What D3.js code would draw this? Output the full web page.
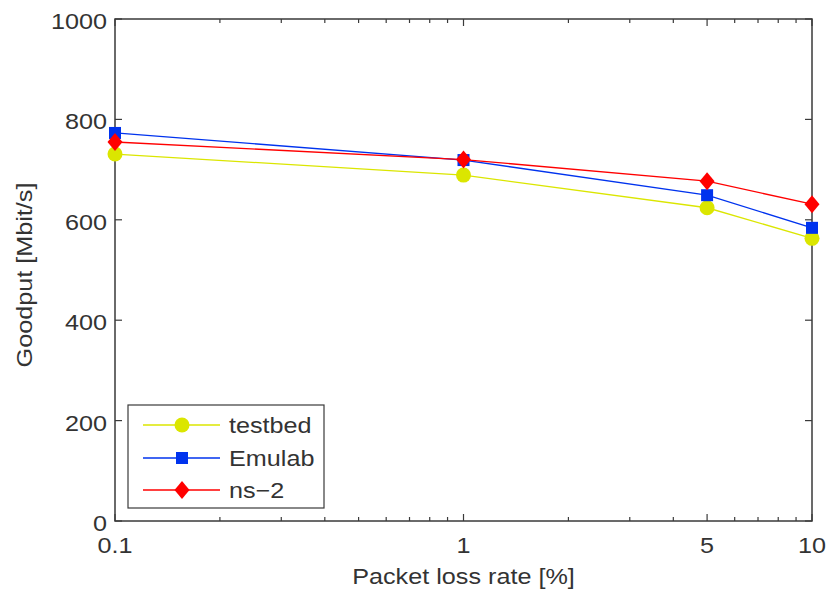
<!DOCTYPE html>
<html><head><meta charset="utf-8">
<script src="https://cdn.jsdelivr.net/npm/d3@7"></script>
<style>body{margin:0;background:#fff}svg{display:block}text{font-family:"Liberation Sans",Arial,sans-serif;fill:#333}</style>
</head><body>
<svg id="chart" width="828" height="590"></svg>
<script>
const lossRates = [0.1, 1, 5, 10];
const testbed = [731, 689, 624, 563];
const emulab = [773, 719, 649, 584];
const ns2 = [755, 720, 677, 631];
const seriesNames = ["testbed", "Emulab", "ns\u22122"];
const xTickValues = [0.1, 1, 5, 10];
const xTickLabels = ["0.1", "1", "5", "10"];
const yTickValues = [0, 200, 400, 600, 800, 1000];

const colors = ["#dbe600", "#0033ee", "#ff0000"];
const markers = ["circle", "square", "diamond"];
const series = [testbed, emulab, ns2];

const svg = d3.select("#chart");
const L = 115, R = 812, T = 19, B = 521;
const FS = 22.5, SX = 1.12;
const x = d3.scaleLog().domain([0.1, 10]).range([L, R]);
const y = d3.scaleLinear().domain([0, 1000]).range([B, T]);
const axisColor = "#3a3a3a";

// minor ticks
const minor = [];
for (let d = 0.1; d < 10; d *= 10) for (let k = 2; k <= 9; k++) minor.push(k * d);
const minorTicks = minor.filter(v => !xTickValues.some(t => Math.abs(t - v) < 1e-9));

const g = svg.append("g");
// box
g.append("rect").attr("x", L).attr("y", T).attr("width", R - L).attr("height", B - T)
  .attr("fill", "none").attr("stroke", axisColor).attr("stroke-width", 1.5);

// x ticks bottom & top
xTickValues.forEach(v => {
  g.append("line").attr("x1", x(v)).attr("x2", x(v)).attr("y1", B).attr("y2", B - 7).attr("stroke", axisColor).attr("stroke-width", 1.2);
  g.append("line").attr("x1", x(v)).attr("x2", x(v)).attr("y1", T).attr("y2", T + 7).attr("stroke", axisColor).attr("stroke-width", 1.2);
});
minorTicks.forEach(v => {
  g.append("line").attr("x1", x(v)).attr("x2", x(v)).attr("y1", B).attr("y2", B - 4).attr("stroke", axisColor).attr("stroke-width", 1.2);
  g.append("line").attr("x1", x(v)).attr("x2", x(v)).attr("y1", T).attr("y2", T + 4).attr("stroke", axisColor).attr("stroke-width", 1.2);
});
yTickValues.forEach(v => {
  g.append("line").attr("x1", L).attr("x2", L + 7).attr("y1", y(v)).attr("y2", y(v)).attr("stroke", axisColor).attr("stroke-width", 1.2);
  g.append("line").attr("x1", R).attr("x2", R - 7).attr("y1", y(v)).attr("y2", y(v)).attr("stroke", axisColor).attr("stroke-width", 1.2);
});

function label(txt, px, py, anchor, rot) {
  const t = svg.append("g").attr("transform", `translate(${px},${py}) rotate(${rot || 0}) scale(${SX},1)`);
  t.append("text").attr("text-anchor", anchor).attr("font-size", FS).text(txt);
}
xTickValues.forEach((v, i) => label(xTickLabels[i], x(v), 553, "middle"));
yTickValues.forEach(v => label(String(v), 107, y(v) + 10, "end"));
label("Packet loss rate [%]", (L + R) / 2, 584, "middle");
label("Goodput [Mbit/s]", 32, 275, "middle", -90);

function drawMarker(sel, type, cx, cy, color) {
  if (type === "circle") sel.append("circle").attr("cx", cx).attr("cy", cy).attr("r", 7.5).attr("fill", color);
  else if (type === "square") sel.append("rect").attr("x", cx - 6).attr("y", cy - 6).attr("width", 12).attr("height", 12).attr("fill", color);
  else sel.append("path").attr("d", `M${cx},${cy - 9}L${cx + 7.5},${cy}L${cx},${cy + 9}L${cx - 7.5},${cy}Z`).attr("fill", color);
}

const line = d3.line().x((d, i) => x(lossRates[i])).y(d => y(d));
series.forEach((s, si) => {
  svg.append("path").datum(s).attr("d", line).attr("fill", "none").attr("stroke", colors[si]).attr("stroke-width", 1.3);
});
series.forEach((s, si) => {
  const mg = svg.append("g");
  s.forEach((v, i) => drawMarker(mg, markers[si], x(lossRates[i]), y(v), colors[si]));
});

// legend
const lg = svg.append("g");
lg.append("rect").attr("x", 128).attr("y", 405).attr("width", 196).attr("height", 103)
  .attr("fill", "#fff").attr("stroke", axisColor).attr("stroke-width", 1.2);
const rows = [425, 458, 490];
seriesNames.forEach((n, i) => {
  lg.append("line").attr("x1", 143).attr("x2", 220).attr("y1", rows[i]).attr("y2", rows[i]).attr("stroke", colors[i]).attr("stroke-width", 1.3);
  drawMarker(lg, markers[i], 182, rows[i], colors[i]);
  const t = lg.append("g").attr("transform", `translate(229,${rows[i] + 8}) scale(${SX},1)`);
  t.append("text").attr("font-size", FS).text(n);
});
</script>
</body></html>
